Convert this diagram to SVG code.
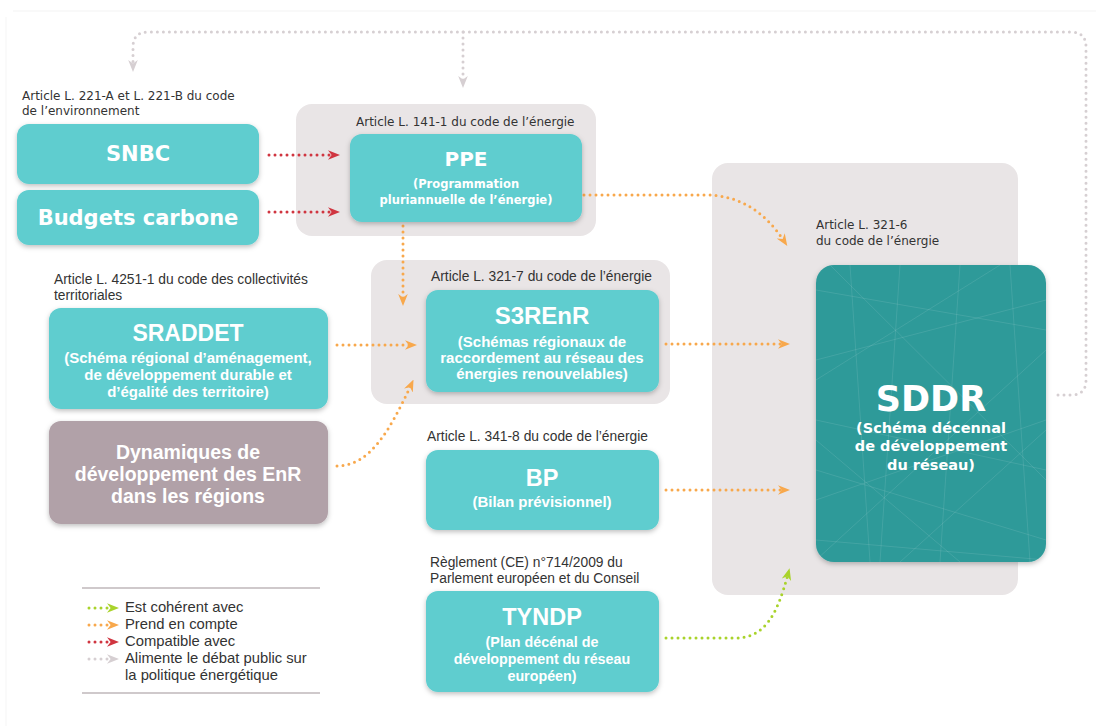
<svg xmlns="http://www.w3.org/2000/svg" width="1096" height="726" viewBox="0 0 1096 726">
<style>
.grp{fill:#e9e5e6}
.box{fill:#5ecdcf;filter:url(#sh)}
.dyn{fill:#b1a1a8;filter:url(#sh)}
.sddr{fill:#2f9a99;filter:url(#sh)}
.art{font-family:"DejaVu Sans",Verdana,sans-serif;font-size:12px;fill:#333}
.artc{font-family:"Liberation Sans",Arial,sans-serif;font-size:13.8px;fill:#333}
.tv{font-family:"DejaVu Sans",Verdana,sans-serif;font-weight:bold;fill:#fff;text-anchor:middle}
.tc{font-family:"Liberation Sans",Arial,sans-serif;font-weight:bold;fill:#fff;text-anchor:middle}
.lg{font-family:"Liberation Sans",Arial,sans-serif;font-size:14.8px;fill:#333}
.dot{fill:none;stroke-width:3;stroke-linecap:round;stroke-dasharray:0 6}
.or{stroke:#f8a84c}
.rd{stroke:#d03540}
.gn{stroke:#a9d32b}
.gy{stroke:#d6cfd2}
</style>
<defs>
<filter id="sh" x="-10%" y="-10%" width="120%" height="125%">
<feDropShadow dx="0" dy="2" stdDeviation="2.5" flood-color="#000" flood-opacity="0.25"/>
</filter>
<marker id="aO" viewBox="0 0 10 10" refX="5" refY="5" markerWidth="4" markerHeight="4" orient="auto" markerUnits="strokeWidth"><path d="M0,1 L10,5 L0,9 L3,5 Z" fill="#f8a84c"/></marker>
<marker id="aR" viewBox="0 0 10 10" refX="5" refY="5" markerWidth="4" markerHeight="4" orient="auto" markerUnits="strokeWidth"><path d="M0,1 L10,5 L0,9 L3,5 Z" fill="#d03540"/></marker>
<marker id="aG" viewBox="0 0 10 10" refX="5" refY="5" markerWidth="4" markerHeight="4" orient="auto" markerUnits="strokeWidth"><path d="M0,1 L10,5 L0,9 L3,5 Z" fill="#a9d32b"/></marker>
<marker id="aY" viewBox="0 0 10 10" refX="5" refY="5" markerWidth="4" markerHeight="4" orient="auto" markerUnits="strokeWidth"><path d="M0,1 L10,5 L0,9 L3,5 Z" fill="#d6cfd2"/></marker>
<clipPath id="sc"><rect x="816" y="265" width="230" height="297" rx="18"/></clipPath>
</defs>
<rect width="1096" height="726" fill="#fff"/>
<line x1="13" y1="11" x2="1096" y2="11" stroke="#f3f3f3" stroke-width="1"/>
<line x1="6" y1="17" x2="6" y2="726" stroke="#f5f5f5" stroke-width="1"/>

<!-- group backgrounds -->
<g id="grp-ppe"><rect class="grp" x="296" y="104" width="300" height="132" rx="16"/><text class="art" x="356" y="126">Article L. 141-1 du code de l’énergie</text></g>
<g id="grp-s3renr"><rect class="grp" x="371" y="260" width="299" height="144" rx="16"/><text class="artc" x="431" y="281">Article L. 321-7 du code de l’énergie</text></g>
<g id="grp-sddr"><rect class="grp" x="712" y="163" width="306" height="432" rx="16"/><text class="art" x="816" y="229">Article L. 321-6</text><text class="art" x="816" y="245">du code de l’énergie</text></g>

<!-- connectors -->
<g id="connectors">
<path class="dot gy" d="M1058,395 H1071 Q1086,395 1086,380 V47 Q1086,32 1071,32 H148 Q133,32 133,47 V66" marker-end="url(#aY)"/>
<path class="dot gy" d="M463,32 V82" marker-end="url(#aY)"/>
<path class="dot rd" d="M269,155 H334" marker-end="url(#aR)"/>
<path class="dot rd" d="M269,212 H334" marker-end="url(#aR)"/>
<path class="dot or" d="M584,195 H705 C740,195 765,212 784,241" marker-end="url(#aO)"/>
<path class="dot or" d="M403,226 V300" marker-end="url(#aO)"/>
<path class="dot or" d="M337,345 H411" marker-end="url(#aO)"/>
<path class="dot or" d="M337,466 C370,466 390,430 411,385" marker-end="url(#aO)"/>
<path class="dot or" d="M666,344 H784" marker-end="url(#aO)"/>
<path class="dot or" d="M666,490 H784" marker-end="url(#aO)"/>
<path class="dot gn" d="M666,638 H735 C765,638 777,615 788,574" marker-end="url(#aG)"/>
</g>

<!-- nodes -->
<g id="snbc">
<text class="art" x="22" y="100">Article L. 221-A et L. 221-B du code</text>
<text class="art" x="22" y="115">de l’environnement</text>
<rect class="box" x="17" y="124" width="242" height="60" rx="12"/>
<text class="tv" x="138" y="161" font-size="21">SNBC</text>
</g>
<g id="budgets">
<rect class="box" x="17" y="190" width="242" height="55" rx="12"/>
<text class="tv" x="138" y="225" font-size="21">Budgets carbone</text>
</g>
<g id="ppe">
<rect class="box" x="350" y="134" width="232" height="88" rx="12"/>
<text class="tv" x="466" y="166" font-size="20">PPE</text>
<text class="tv" x="466" y="188" font-size="11.5">(Programmation</text>
<text class="tv" x="466" y="204" font-size="11.5">pluriannuelle de l’énergie)</text>
</g>
<g id="sraddet">
<text class="artc" x="54" y="284">Article L. 4251-1 du code des collectivités</text>
<text class="artc" x="54" y="300">territoriales</text>
<rect class="box" x="49" y="308" width="279" height="101" rx="12"/>
<text class="tc" x="188" y="341" font-size="23">SRADDET</text>
<text class="tc" x="188" y="363" font-size="15">(Schéma régional d’aménagement,</text>
<text class="tc" x="188" y="380" font-size="15">de développement durable et</text>
<text class="tc" x="188" y="397" font-size="15">d’égalité des territoire)</text>
</g>
<g id="dynamiques">
<rect class="dyn" x="49" y="421" width="279" height="103" rx="12"/>
<text class="tc" x="188" y="459" font-size="19.5">Dynamiques de</text>
<text class="tc" x="188" y="481" font-size="19.5">développement des EnR</text>
<text class="tc" x="188" y="503" font-size="19.5">dans les régions</text>
</g>
<g id="s3renr">
<rect class="box" x="426" y="290" width="233" height="102" rx="12"/>
<text class="tc" x="542" y="324" font-size="24">S3REnR</text>
<text class="tc" x="542" y="347" font-size="15">(Schémas régionaux de</text>
<text class="tc" x="542" y="363" font-size="15">raccordement au réseau des</text>
<text class="tc" x="542" y="379" font-size="15">énergies renouvelables)</text>
</g>
<g id="bp">
<text class="artc" x="427" y="441">Article L. 341-8 du code de l’énergie</text>
<rect class="box" x="426" y="450" width="233" height="80" rx="12"/>
<text class="tc" x="542" y="486" font-size="23.5">BP</text>
<text class="tc" x="542" y="507" font-size="15">(Bilan prévisionnel)</text>
</g>
<g id="tyndp">
<text class="artc" x="430" y="567" font-size="14.2">Règlement (CE) n°714/2009 du</text>
<text class="artc" x="430" y="583" font-size="14.2">Parlement européen et du Conseil</text>
<rect class="box" x="426" y="591" width="233" height="101" rx="12"/>
<text class="tc" x="542" y="625" font-size="23.5">TYNDP</text>
<text class="tc" x="542" y="647" font-size="14.3">(Plan décénal de</text>
<text class="tc" x="542" y="664" font-size="14.3">développement du réseau</text>
<text class="tc" x="542" y="681" font-size="14.3">européen)</text>
</g>
<g id="sddr">
<rect class="sddr" x="816" y="265" width="230" height="297" rx="18"/>
<g clip-path="url(#sc)" stroke="#ffffff" stroke-opacity="0.1" stroke-width="1" fill="none">
<path d="M816,290 L1046,330 M816,360 L1046,300 M816,420 L1046,470 M816,500 L1046,420 M816,540 L1046,560 M816,470 L1046,540"/>
<path d="M850,265 L870,562 M900,265 L880,562 M960,265 L940,562 M1010,265 L1030,562 M830,265 L1046,480 M816,380 L1000,265 M816,560 L1046,350 M900,562 L1046,430 M816,440 L960,562"/>
</g>
<text class="tv" x="931" y="411" font-size="35">SDDR</text>
<text class="tv" x="931" y="433" font-size="14.5">(Schéma décennal</text>
<text class="tv" x="931" y="451" font-size="14.5">de développement</text>
<text class="tv" x="931" y="470" font-size="14.5">du réseau)</text>
</g>

<!-- legend -->
<g id="legend">
<line x1="82" y1="588" x2="320" y2="588" stroke="#cfc9cb" stroke-width="2"/>
<line x1="82" y1="693" x2="320" y2="693" stroke="#cfc9cb" stroke-width="2"/>
<path class="dot gn" d="M89,608 H113" marker-end="url(#aG)"/>
<path class="dot or" d="M89,625 H113" marker-end="url(#aO)"/>
<path class="dot rd" d="M89,642 H113" marker-end="url(#aR)"/>
<path class="dot gy" d="M89,659 H113" marker-end="url(#aY)"/>
<text class="lg" x="125" y="612">Est cohérent avec</text>
<text class="lg" x="125" y="629">Prend en compte</text>
<text class="lg" x="125" y="646">Compatible avec</text>
<text class="lg" x="125" y="663">Alimente le débat public sur</text>
<text class="lg" x="125" y="680">la politique énergétique</text>
</g>
</svg>
